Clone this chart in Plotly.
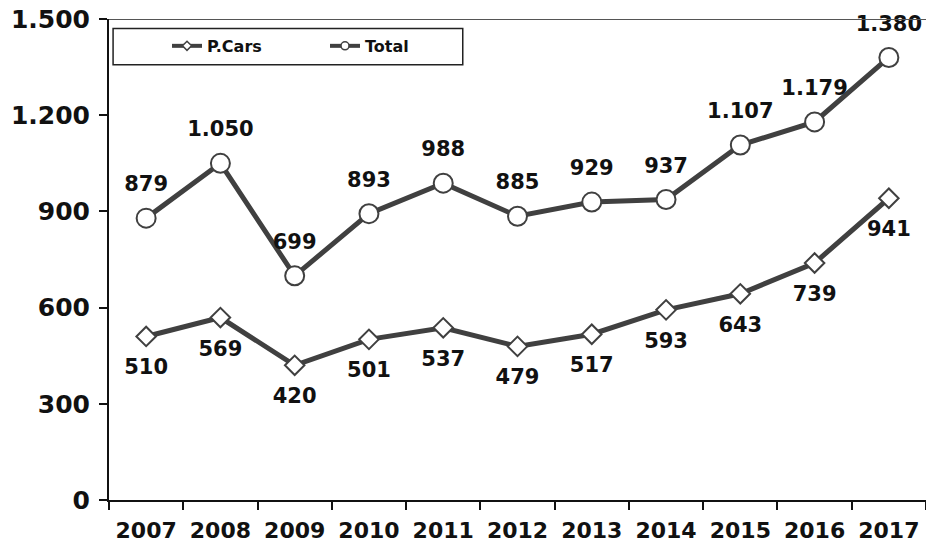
import plotly.graph_objects as go

years = ["2007", "2008", "2009", "2010", "2011", "2012", "2013", "2014", "2015", "2016", "2017"]
total = [879, 1050, 699, 893, 988, 885, 929, 937, 1107, 1179, 1380]
pcars = [510, 569, 420, 501, 537, 479, 517, 593, 643, 739, 941]
ytick_vals = [0, 300, 600, 900, 1200, 1500]
ytick_text = ["0", "300", "600", "900", "1.200", "1.500"]

LINE = "#404040"
FONT = "DejaVu Sans"
TXT = "#111111"


def fmt(v):
    return f"{v:,}".replace(",", ".")


LABEL_FONT = dict(family=FONT, size=21, color=TXT, weight="bold")

fig = go.Figure()
fig.add_trace(go.Scatter(
    x=years, y=pcars, mode="lines+markers", showlegend=False,
    line=dict(color=LINE, width=5),
    marker=dict(symbol="diamond", size=15, color="white", line=dict(color=LINE, width=2)),
))
fig.add_trace(go.Scatter(
    x=years, y=total, mode="lines+markers", showlegend=False,
    line=dict(color=LINE, width=5),
    marker=dict(symbol="circle", size=19, color="white", line=dict(color=LINE, width=2)),
))
# data labels (transparent spacer markers push the text away from the points)
fig.add_trace(go.Scatter(
    x=years, y=pcars, mode="markers+text", showlegend=False, hoverinfo="skip",
    marker=dict(size=34, color="rgba(0,0,0,0)"),
    text=[fmt(v) for v in pcars], textposition="bottom center",
    textfont=LABEL_FONT, cliponaxis=False,
))
fig.add_trace(go.Scatter(
    x=years, y=total, mode="markers+text", showlegend=False, hoverinfo="skip",
    marker=dict(size=33, color="rgba(0,0,0,0)"),
    text=[fmt(v) for v in total], textposition="top center",
    textfont=LABEL_FONT, cliponaxis=False,
))
# legend entries
fig.add_trace(go.Scatter(x=[None], y=[None], mode="lines+markers", name="P.Cars",
                         line=dict(color=LINE, width=4),
                         marker=dict(symbol="diamond", size=7, color="white", line=dict(color=LINE, width=1.5))))
fig.add_trace(go.Scatter(x=[None], y=[None], mode="lines+markers", name="Total",
                         line=dict(color=LINE, width=4),
                         marker=dict(symbol="circle", size=8, color="white", line=dict(color=LINE, width=1.5))))

fig.update_layout(
    width=926, height=554,
    margin=dict(l=109, r=0, t=19, b=54, autoexpand=False),
    plot_bgcolor="white", paper_bgcolor="white",
    font=dict(family=FONT, color=TXT),
    showlegend=True,
    legend=dict(orientation="h", x=0.071, y=0.944, xanchor="left", yanchor="middle",
                font=dict(family=FONT, size=16, color=TXT, weight="bold"),
                bgcolor="rgba(0,0,0,0)", entrywidth=113, itemwidth=30),
    xaxis=dict(type="category", showgrid=False, showline=True, linecolor=TXT, linewidth=2,
               ticks="outside", tickson="boundaries", ticklen=8, tickwidth=2, tickcolor=TXT,
               tickfont=dict(family=FONT, size=22, color=TXT, weight="bold"),
               ticklabelstandoff=10, range=[-0.5, 10.5], automargin=False),
    yaxis=dict(range=[0, 1500], showgrid=False, showline=True, linecolor=TXT, linewidth=2,
               ticks="outside", ticklen=8, tickwidth=2, tickcolor=TXT,
               tickvals=ytick_vals, ticktext=ytick_text, zeroline=False, automargin=False,
               ticklabelstandoff=4,
               tickfont=dict(family=FONT, size=25, color=TXT, weight="bold")),
    shapes=[
        dict(type="line", xref="paper", yref="y", x0=0, x1=1, y0=1500, y1=1500,
             line=dict(color="#555", width=2)),
        dict(type="rect", xref="paper", yref="paper", x0=0.005, x1=0.433, y0=0.905, y1=0.98,
             line=dict(color="#222", width=1.5), fillcolor="rgba(0,0,0,0)"),
    ],
)

fig.write_html("out.html", config={"displayModeBar": False},
               post_script="document.body.style.margin='0';")
